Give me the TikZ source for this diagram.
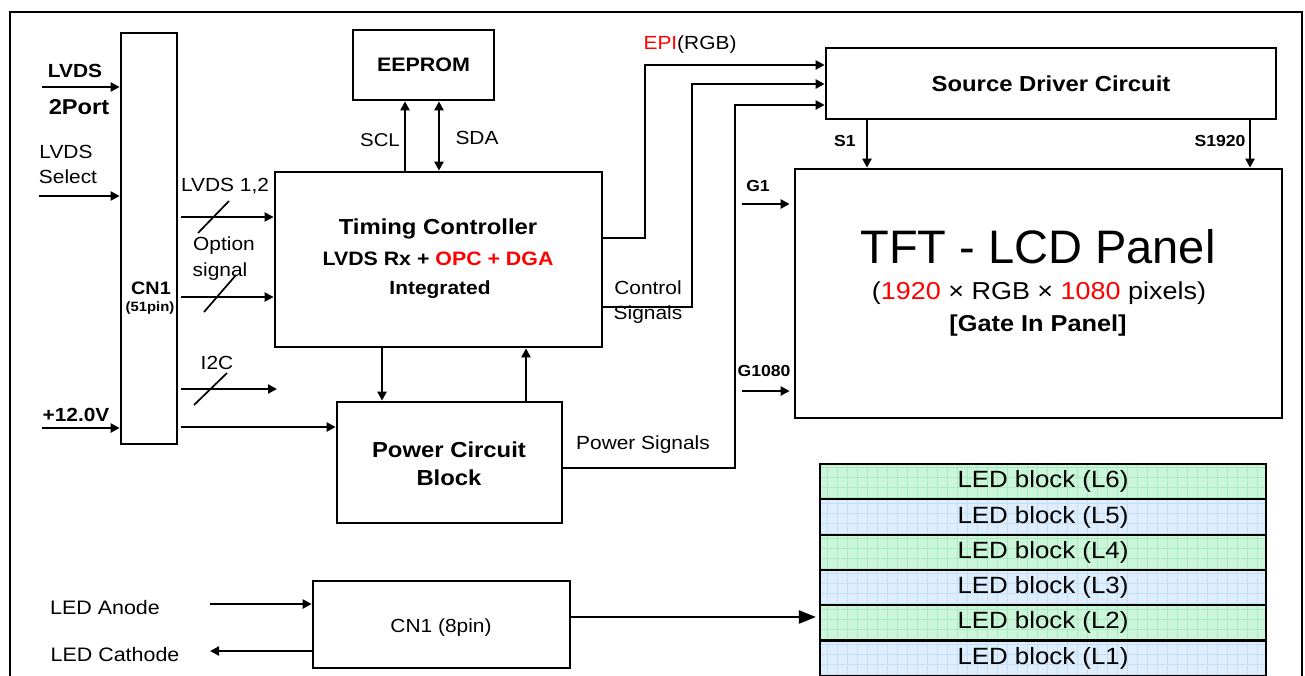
\documentclass[tikz,border=0pt]{standalone}
\usepackage{fontspec}
\setmainfont[FakeStretch=1.1]{Liberation Sans}
\newfontfamily\plainsans{Liberation Sans}
\usetikzlibrary{arrows.meta}
\definecolor{epired}{RGB}{255,0,0}
\definecolor{ledgreen}{RGB}{204,246,218}
\definecolor{ledgreengrid}{RGB}{172,234,198}
\definecolor{ledblue}{RGB}{222,238,252}
\definecolor{ledbluegrid}{RGB}{198,222,246}
\newcommand{\myfs}[1]{\fontsize{#1}{#1}\selectfont}
\begin{document}
\begin{tikzpicture}[x=1pt,y=-1pt,
  box/.style={draw, line width=2.7pt, inner sep=0pt},
  con/.style={line width=2.2pt},
  arr/.style={con, -{Triangle[length=9pt,width=9pt]}},
  darr/.style={con, {Triangle[length=9pt,width=9pt]}-{Triangle[length=9pt,width=9pt]}},
  slash/.style={line width=1.7pt},
  txt/.style={inner sep=0pt, font=\myfs{19}},
  btxt/.style={inner sep=0pt, font=\bfseries\myfs{19}},
  ledrow/.style={draw, line width=2.2pt, minimum width=446pt, minimum height=35.3pt, inner sep=0pt, font=\myfs{23.5}},
]
\useasboundingbox (0,0) rectangle (1305,675);
\draw[line width=1.6pt] (10,690) -- (10,12) -- (1302,12) -- (1302,690);

% boxes
\node[box, minimum width=56pt, minimum height=411pt] (cn51) at (149,238.5) {};
\node[box, minimum width=141pt, minimum height=70pt, font=\bfseries\myfs{19.5}] (eeprom) at (423.5,65) {EEPROM};
\node[box, minimum width=327pt, minimum height=175pt] (tcon) at (438.5,259.5) {};
\node[box, minimum width=225pt, minimum height=121pt] (power) at (449.5,462.5) {};
\node[box, minimum width=450pt, minimum height=71pt, font=\bfseries\myfs{21.7}] (sdc) at (1051,83.5) {Source Driver Circuit};
\node[box, minimum width=487pt, minimum height=249pt] (tft) at (1038.5,293.5) {};
\node[box, minimum width=257pt, minimum height=87pt] (cn8) at (441.5,624.5) {};

% LED rows
\foreach \n/\fc/\gc [count=\k] in {6/ledgreen/ledgreengrid,5/ledblue/ledbluegrid,4/ledgreen/ledgreengrid,3/ledblue/ledbluegrid,2/ledgreen/ledgreengrid,1/ledblue/ledbluegrid}
  \node[ledrow, fill=\fc, path picture={\draw[\gc, line width=0.5pt] (path picture bounding box.south west) grid[step=10pt] (path picture bounding box.north east);}] (led\n) at (1043,{464+35.3*(\k-0.5)}) {LED block (L\n)};

% texts
\node[btxt, font=\bfseries\myfs{19}] (tLVDS) at (75,71) {LVDS};
\node[btxt, font=\bfseries\myfs{21.5}] (t2port) at (79,107) {2Port};
\node[txt] (tLVDSs) at (66,152) {LVDS};
\node[txt] (tSel) at (68,177) {Select};
\node[btxt] (t12) at (76,415) {+12.0V};
\node[btxt, font=\bfseries\myfs{18}] (tcn1) at (151,288) {CN1};
\node[btxt, font=\bfseries\myfs{13.5}] (t51) at (150,308) {(51pin)};
\node[txt, font=\myfs{18.5}] (tscl) at (380,140) {SCL};
\node[txt, font=\myfs{19}] (tsda) at (477,138) {SDA};
\node[txt] (tl12) at (225,186) {LVDS 1,2};
\node[txt] (topt) at (224,246) {Option};
\node[txt] (tsig) at (220,272) {signal};
\node[txt] (ti2c) at (217,363) {I2C};
\node[btxt, font=\bfseries\myfs{21.7}] (ttc) at (438,229) {Timing Controller};
\node[btxt, font=\bfseries\myfs{19.4}] (trx) at (438,259) {LVDS Rx + {\color{epired}OPC + DGA}};
\node[btxt, font=\bfseries\myfs{19}] (tint) at (440,290) {Integrated};
\node[btxt, font=\bfseries\myfs{21.7}] (tpc) at (449,450) {Power Circuit};
\node[btxt, font=\bfseries\myfs{21.7}] (tblk) at (449,478) {Block};
\node[txt, font=\myfs{19}] (tcn8) at (441,628) {CN1 (8pin)};
\node[txt, font=\myfs{19.5}] (tano) at (105,608) {LED Anode};
\node[txt, font=\myfs{19.5}] (tcat) at (115,655) {LED Cathode};
\node[txt] (tepi) at (690,45) {{\color{epired}EPI}(RGB)};
\node[btxt, font=\bfseries\myfs{16}] (ts1) at (845,141) {S1};
\node[btxt, font=\bfseries\myfs{16}] (ts1920) at (1220,141) {S1920};
\node[btxt, font=\bfseries\myfs{16}] (tg1) at (758,186) {G1};
\node[btxt, font=\bfseries\myfs{16}] (tg1080) at (764,371) {G1080};
\node[txt, font=\plainsans\myfs{47}] (ttft) at (1038,247) {TFT - LCD Panel};
\node[txt, font=\myfs{24.5}] (tpix) at (1039,293) {({\color{epired}1920} × RGB × {\color{epired}1080} pixels)};
\node[btxt, font=\bfseries\myfs{23}] (tgip) at (1038,326) {[Gate In Panel]};
\node[txt] (tctl) at (648,288) {Control};
\node[txt] (tsigs) at (648,315) {Signals};
\node[txt] (tps) at (643,445) {Power Signals};

% connectors
\coordinate (xscl) at (405,0);
\coordinate (xsda) at (439,0);
\draw[arr] (tcon.north -| xscl) -- (eeprom.south -| xscl);
\draw[darr] (tcon.north -| xsda) -- (eeprom.south -| xsda);

\coordinate (inLVDS) at (42,87);
\draw[arr] (inLVDS) -- (inLVDS -| cn51.west);
\coordinate (inSel) at (39,196);
\draw[arr] (inSel) -- (inSel -| cn51.west);
\coordinate (in12) at (42,428);
\draw[arr] (in12) -- (in12 -| cn51.west);

\coordinate (o1) at (181,217);
\draw[arr] (o1) -- (o1 -| tcon.west);
\draw[slash] (198,233) -- (229,201);
\coordinate (o2) at (181,297);
\draw[arr] (o2) -- (o2 -| tcon.west);
\draw[slash] (204,312) -- (236,275);
\coordinate (o3) at (181,389);
\coordinate (o3e) at (277,389);
\draw[arr] (o3) -- (o3e);
\draw[slash] (194,405) -- (227,373);
\coordinate (o4) at (181,427);
\draw[arr] (o4) -- (o4 -| power.west);

\coordinate (xdn) at (382,0);
\coordinate (xup) at (526,0);
\draw[arr] (tcon.south -| xdn) -- (power.north -| xdn);
\draw[arr] (power.north -| xup) -- (tcon.south -| xup);

\coordinate (epi1) at (645,238);
\coordinate (epi2) at (645,65);
\draw[arr] (tcon.east |- epi1) -- (epi1) -- (epi2) -- (epi2 -| sdc.west);
\coordinate (ctl1) at (692,307);
\coordinate (ctl2) at (692,84);
\draw[arr] (tcon.east |- ctl1) -- (ctl1) -- (ctl2) -- (ctl2 -| sdc.west);
\coordinate (ps1) at (735,468);
\coordinate (ps2) at (735,105);
\draw[arr] (power.east |- ps1) -- (ps1) -- (ps2) -- (ps2 -| sdc.west);

\coordinate (xs1) at (867,0);
\coordinate (xs2) at (1250,0);
\draw[arr] (sdc.south -| xs1) -- (tft.north -| xs1);
\draw[arr] (sdc.south -| xs2) -- (tft.north -| xs2);
\coordinate (g1) at (742,204);
\draw[arr, shorten >=4pt] (g1) -- (g1 -| tft.west);
\coordinate (g2) at (742,391);
\draw[arr, shorten >=4pt] (g2) -- (g2 -| tft.west);

\coordinate (la) at (210,604);
\draw[arr] (la) -- (la -| cn8.west);
\coordinate (lc) at (210,651);
\draw[arr] (lc -| cn8.west) -- (lc);
\coordinate (lk) at (0,617);
\draw[con, -{Triangle[length=17pt,width=13pt]}, shorten >=3pt] (cn8.east |- lk) -- (lk -| led2.west);
\end{tikzpicture}
\end{document}
